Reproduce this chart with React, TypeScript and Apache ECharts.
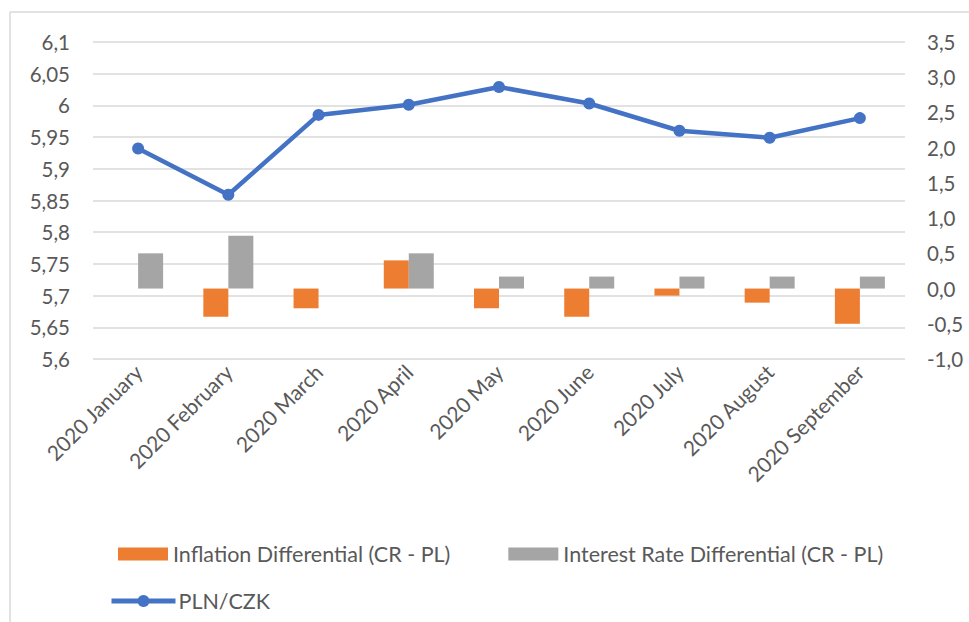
import React, { useEffect, useRef } from "react";
import * as echarts from "echarts";

const categories = [
  "2020 January",
  "2020 February",
  "2020 March",
  "2020 April",
  "2020 May",
  "2020 June",
  "2020 July",
  "2020 August",
  "2020 September",
];
const inflationDiff = [0, -0.4, -0.28, 0.4, -0.28, -0.4, -0.1, -0.2, -0.5];
const interestDiff = [0.5, 0.75, 0, 0.5, 0.17, 0.17, 0.17, 0.17, 0.17];
const plnCzk = [5.932, 5.859, 5.985, 6.001, 6.029, 6.003, 5.96, 5.949, 5.98];

const FONT = "Lato, 'Open Sans', sans-serif";
const TEXT = "#595959";

export default function App() {
  const ref = useRef<HTMLDivElement>(null);
  useEffect(() => {
    document.body.style.margin = "0";
    const chart = echarts.init(ref.current!, undefined, { renderer: "svg" });
    chart.setOption({
      animation: false,
      backgroundColor: "#ffffff",
      textStyle: { fontFamily: FONT },
      grid: { left: 93, right: 64, top: 42, bottom: 263, containLabel: false },
      graphic: [
        { type: "line", shape: { x1: 10, y1: 12, x2: 969, y2: 12 }, style: { stroke: "#D9D9D9", lineWidth: 1.5 } },
        { type: "line", shape: { x1: 10, y1: 12, x2: 10, y2: 622 }, style: { stroke: "#D9D9D9", lineWidth: 1.5 } },
      ],
      legend: [
        {
          data: ["Inflation Differential (CR - PL)", "Interest Rate Differential (CR - PL)"],
          left: 113,
          top: 538,
          itemWidth: 50,
          itemHeight: 13,
          itemGap: 58,
          icon: "rect",
          textStyle: { color: TEXT, fontSize: 21.5, fontFamily: FONT, padding: [0, 0, 0, 0] },
        },
        {
          data: ["PLN/CZK"],
          left: 104,
          top: 585,
          itemWidth: 64,
          itemHeight: 15,
          lineStyle: { width: 5 },
          textStyle: { color: TEXT, fontSize: 21.5, fontFamily: FONT, padding: [0, 0, 0, -2] },
        },
      ],
      xAxis: {
        type: "category",
        data: categories,
        axisLine: { show: false },
        axisTick: { show: false },
        axisLabel: {
          rotate: 45,
          color: TEXT,
          fontSize: 21,
          fontFamily: FONT,
          margin: 9,
          interval: 0,
        },
      },
      yAxis: [
        {
          type: "value",
          min: 5.6,
          max: 6.1,
          interval: 0.05,
          axisLine: { show: false },
          axisTick: { show: false },
          splitLine: { lineStyle: { color: "#D9D9D9", width: 1.5 } },
          axisLabel: {
            color: TEXT,
            fontSize: 20.5,
            fontFamily: FONT,
            margin: 23,
            formatter: (v: number) => String(Math.round(v * 100) / 100).replace(".", ","),
          },
        },
        {
          type: "value",
          min: -1,
          max: 3.5,
          interval: 0.5,
          axisLine: { show: false },
          axisTick: { show: false },
          splitLine: { show: false },
          axisLabel: {
            color: TEXT,
            fontSize: 20.5,
            fontFamily: FONT,
            margin: 22,
            formatter: (v: number) => v.toFixed(1).replace(".", ","),
          },
        },
      ],
      series: [
        {
          name: "Inflation Differential (CR - PL)",
          type: "bar",
          yAxisIndex: 1,
          data: inflationDiff,
          barWidth: 25,
          barGap: "0%",
          itemStyle: { color: "#ED7D31" },
        },
        {
          name: "Interest Rate Differential (CR - PL)",
          type: "bar",
          yAxisIndex: 1,
          data: interestDiff,
          barWidth: 25,
          barGap: "0%",
          itemStyle: { color: "#A5A5A5" },
        },
        {
          name: "PLN/CZK",
          type: "line",
          yAxisIndex: 0,
          data: plnCzk,
          symbol: "circle",
          symbolSize: 12,
          lineStyle: { color: "#4472C4", width: 4.5 },
          itemStyle: { color: "#4472C4" },
          z: 5,
        },
      ],
    });
    return () => chart.dispose();
  }, []);
  return <div ref={ref} style={{ width: 969, height: 622 }} />;
}
